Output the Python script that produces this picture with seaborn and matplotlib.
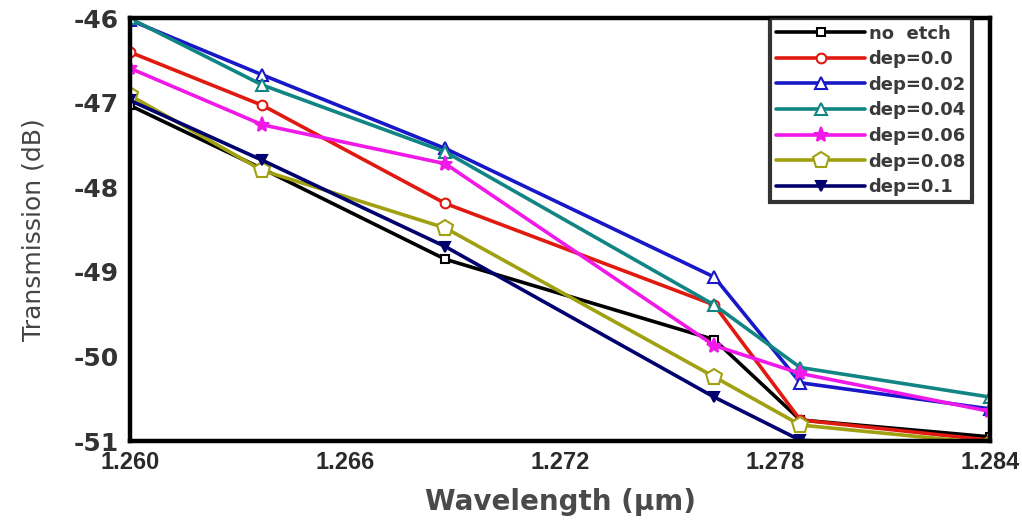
import matplotlib
matplotlib.use("Agg")
import matplotlib.pyplot as plt
import seaborn as sns
import pandas as pd

sns.set_theme(style="white")
plt.rcParams['font.family'] = ['DejaVu Sans']

wavelength = [1.2600, 1.2637, 1.2688, 1.2763, 1.2787, 1.2840]

no_etch  = [-47.03, -47.78, -48.85, -49.80, -50.75, -50.95]
dep_000  = [-46.40, -47.03, -48.19, -49.39, -50.75, -50.99]
dep_002  = [-46.02, -46.67, -47.54, -49.06, -50.31, -50.62]
dep_004  = [-46.00, -46.79, -47.58, -49.39, -50.13, -50.48]
dep_006  = [-46.59, -47.26, -47.72, -49.87, -50.20, -50.65]
dep_008  = [-46.91, -47.80, -48.48, -50.24, -50.81, -51.03]
dep_010  = [-46.97, -47.68, -48.70, -50.48, -50.99, -51.08]

labels = ["no  etch", "dep=0.0", "dep=0.02", "dep=0.04",
          "dep=0.06", "dep=0.08", "dep=0.1"]
series = [no_etch, dep_000, dep_002, dep_004, dep_006, dep_008, dep_010]
colors = ["#000000", "#e01a10", "#1818c8", "#118484", "#f019e8", "#a0a010", "#00006e"]
markers = ["s", "o", "^", "^", "*", "p", "v"]
faces = ["white", "white", "white", "white", "#f019e8", "white", "#00006e"]
msizes = [6, 7, 9, 8, 11, 12, 7]

fig = plt.figure(figsize=(10.22, 5.22), dpi=100)
ax = fig.add_axes([0.127, 0.155, 0.842, 0.81])

for lab, vals, c, m, fc, ms in zip(labels, series, colors, markers, faces, msizes):
    df = pd.DataFrame({"wl": wavelength, "T": vals})
    sns.lineplot(data=df, x="wl", y="T", ax=ax, color=c, marker=m,
                 markerfacecolor=fc, markeredgecolor=c, markeredgewidth=1.5,
                 markersize=ms, linewidth=2.6, label=lab, clip_on=True)

ax.set_xlim(1.260, 1.284)
ax.set_ylim(-51, -46)
ax.set_xticks([1.260, 1.266, 1.272, 1.278, 1.284])
ax.set_xticklabels(["1.260", "1.266", "1.272", "1.278", "1.284"])
ax.set_yticks([-46, -47, -48, -49, -50, -51])
ax.set_yticklabels(["-46", "-47", "-48", "-49", "-50", "-51"])
ax.tick_params(axis="x", labelsize=17, length=0, pad=7, labelcolor="#2a2a2a")
ax.tick_params(axis="y", labelsize=18, length=0, pad=8, labelcolor="#333333")
for t in ax.get_xticklabels():
    t.set_fontweight("bold")
    t.set_family(["Liberation Sans", "DejaVu Sans"])
for t in ax.get_yticklabels():
    t.set_fontweight("bold")

ax.set_xlabel("Wavelength (\u03bcm)", fontsize=20, fontweight="bold",
              color="#4a4a4a", labelpad=10)
ax.set_ylabel("Transmission (dB)", fontsize=18, color="#444444", labelpad=20)

for sp in ax.spines.values():
    sp.set_color("black")
    sp.set_linewidth(3.2)
    sp.set_visible(True)

leg = ax.legend(loc="upper right", bbox_to_anchor=(0.979, 1.0), fontsize=13,
                frameon=True, fancybox=False, edgecolor="black",
                handlelength=4.9, borderaxespad=0, labelspacing=0.42,
                handletextpad=0.2, borderpad=0.35)
leg.get_frame().set_linewidth(3)
for t in leg.get_texts():
    t.set_fontweight("bold")
    t.set_color("#3a3a3a")

fig.savefig("out.png", dpi=100, facecolor="white")
